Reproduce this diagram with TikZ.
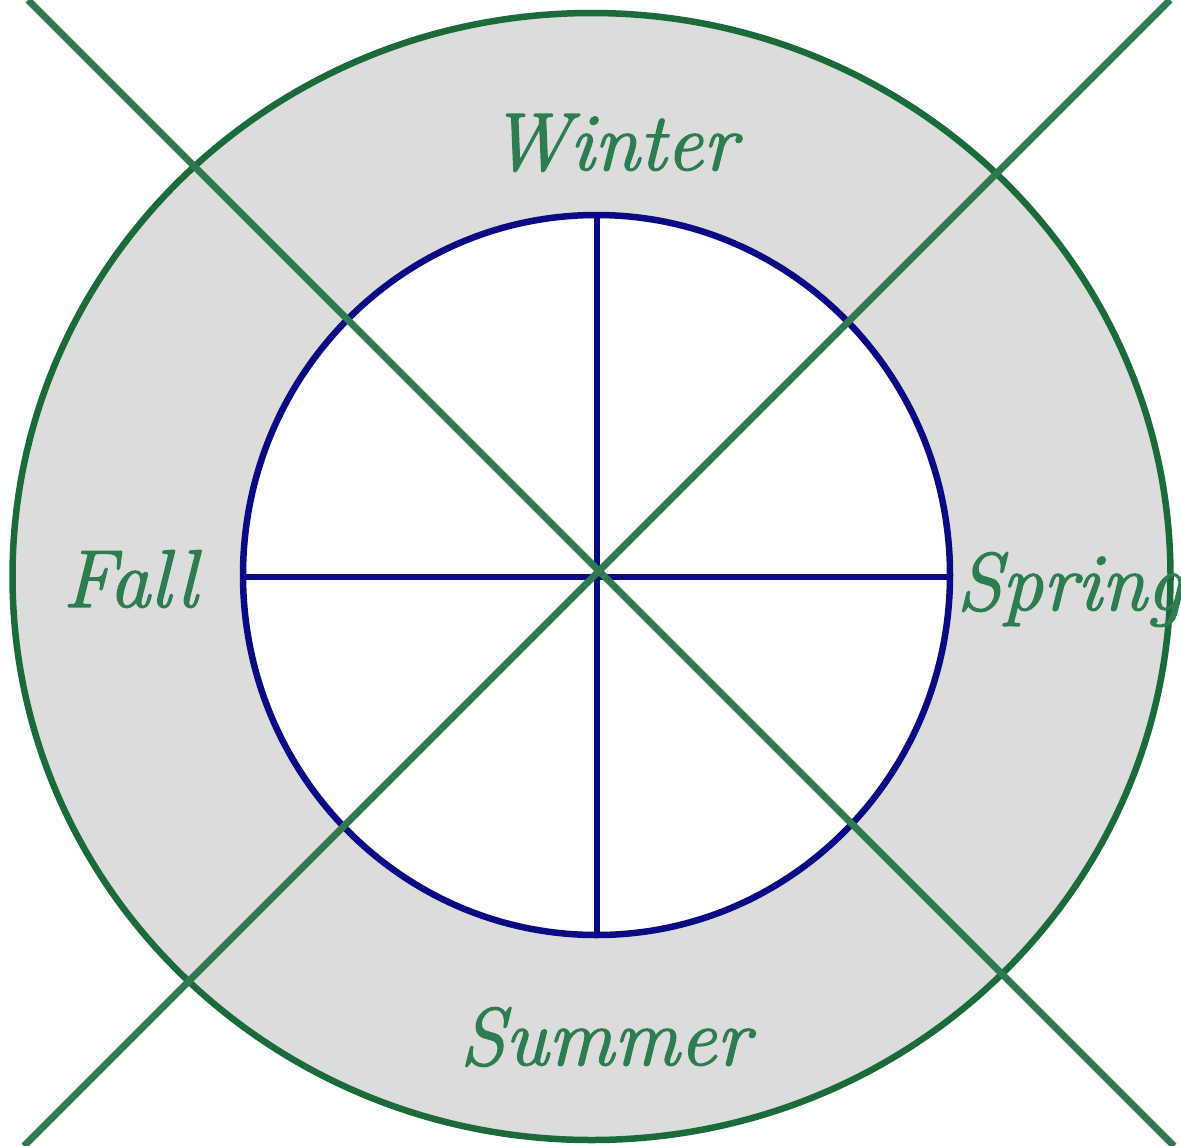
\documentclass[tikz,border=0pt]{standalone}
\usepackage{fontspec}
\newfontfamily\seasonfont{Latin Modern Roman}[FakeBold=1.6]
\begin{document}
\begin{tikzpicture}[x=1pt,y=-1pt,
  season/.style={text=seasongreen,font=\seasonfont\fontsize{82}{96}\selectfont\itshape,inner sep=0pt,anchor=base},
  spoke/.style={draw=spokeblue,line width=6.5pt},
  diag/.style={draw=diaggreen,line width=7pt}]
\definecolor{seasongreen}{HTML}{2E7D50}
\definecolor{diaggreen}{HTML}{2E7A4E}
\definecolor{ringgreen}{HTML}{1B6B3A}
\definecolor{spokeblue}{HTML}{0A0A85}
\definecolor{ringgray}{HTML}{DCDCDC}
\useasboundingbox (0,0) rectangle (1181,1146);
\coordinate (oc) at (591.5,576.5);
\coordinate (ic) at (596.5,575);
\fill[ringgray,draw=ringgreen,line width=6.5pt] (oc) ellipse [x radius=579, y radius=563.5];
\fill[white,draw=spokeblue,line width=6.5pt] (ic) ellipse [x radius=353.5, y radius=360];
\coordinate (L) at (243,577);
\coordinate (R) at (950,577);
\coordinate (T) at (597,215);
\coordinate (B) at (597,935);
\draw[spoke] (L) -- (R);
\draw[spoke] (T) -- (B);
\coordinate (d1a) at (28,0);
\coordinate (d1b) at (1174,1146);
\coordinate (d2a) at (1170,0);
\coordinate (d2b) at (24,1146);
\draw[diag] (d1a) -- (d1b);
\draw[diag] (d2a) -- (d2b);
\node[season] (winter) at (613,170) {Winter};
\node[season] (fall) at (130,607) {Fall};
\node[season] (spring) at (1070,610) {Spring};
\node[season] (summer) at (605,1065) {Summer};
\end{tikzpicture}
\end{document}
